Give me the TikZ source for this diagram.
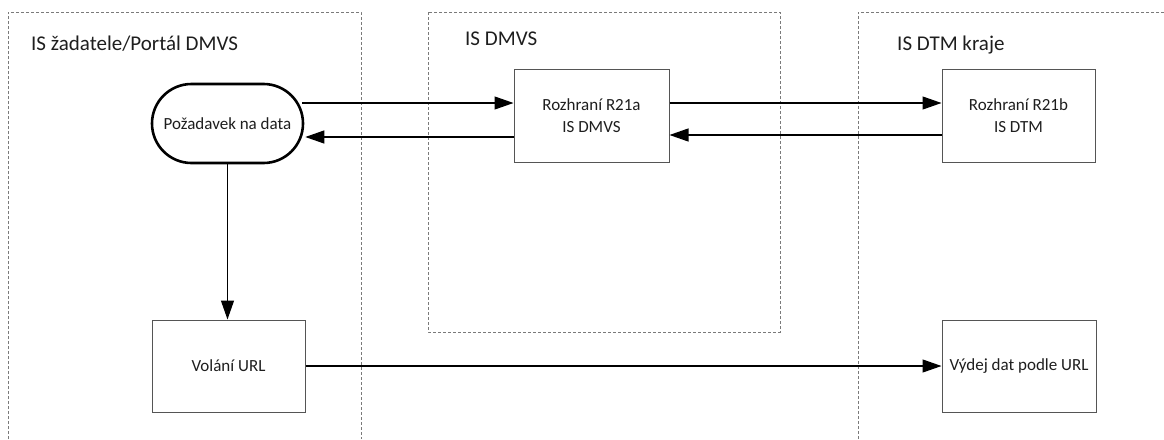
\documentclass[tikz,border=0pt]{standalone}
\usepackage{fontspec}
\setmainfont{Carlito}
\usetikzlibrary{arrows.meta,shapes.misc}
\definecolor{frame}{HTML}{7A7A7A}
\definecolor{boxline}{HTML}{555555}
\definecolor{txt}{HTML}{1E1E1E}
\tikzset{
  frm/.style={draw=frame,line width=0.9pt,dash pattern=on 3pt off 2pt},
  ttl/.style={anchor=base west,inner sep=0pt,text=txt,font=\fontsize{21}{25}\selectfont},
  procbox/.style={draw=boxline,line width=1pt,fill=white,text=txt,align=center,
    font=\fontsize{17}{22}\selectfont,inner sep=0pt},
  term/.style={draw=black,line width=2.6pt,fill=white,text=txt,rounded rectangle,
    minimum width=151pt,minimum height=79pt,inner sep=0pt,font=\fontsize{17}{22}\selectfont},
  arr/.style={draw=black,line width=1.2pt,-{Triangle[length=19pt,width=13pt]}}
}
\begin{document}
\begin{tikzpicture}[x=1pt,y=-1pt]
\useasboundingbox (0,0) rectangle (1164,439);
% frames
\draw[frm] (8,439) -- (8,12) -- (361,12) -- (361,439);
\draw[frm] (428,12) rectangle (780,332);
\draw[frm] (1164,12) -- (858,12) -- (858,439);
% titles
\node[ttl] (t1) at (31,50) {IS žadatele/Portál DMVS};
\node[ttl] (t2) at (465,45) {IS DMVS};
\node[ttl] (t3) at (897,50) {IS DTM kraje};
% nodes
\node[term] (req) at (227.5,123.5) {Požadavek na data};
\node[procbox,minimum width=155pt,minimum height=93pt] (r21a) at (591.5,115.5) {Rozhraní R21a\\IS DMVS};
\node[procbox,minimum width=153pt,minimum height=93pt] (r21b) at (1018.5,115.5) {Rozhraní R21b\\IS DTM};
\node[procbox,minimum width=153pt,minimum height=92pt] (url) at (228.5,366) {Volání URL};
\node[procbox,minimum width=154pt,minimum height=92pt] (vydej) at (1019,366) {Výdej dat podle URL};
% connectors
\draw[arr] ([yshift=20.5pt,xshift=-2pt]req.east) -- ([yshift=12.5pt]r21a.west);
\draw[arr] ([yshift=-21.5pt]r21a.west) -- ([yshift=-13.5pt,xshift=1pt]req.east);
\draw[arr] ([yshift=12.5pt]r21a.east) -- ([yshift=12.5pt]r21b.west);
\draw[arr] ([yshift=-19.5pt]r21b.west) -- ([yshift=-19.5pt]r21a.east);
\draw[arr] (req.south) -- (req.south |- url.north);
\draw[arr] (url.east) -- (vydej.west);
\end{tikzpicture}
\end{document}
